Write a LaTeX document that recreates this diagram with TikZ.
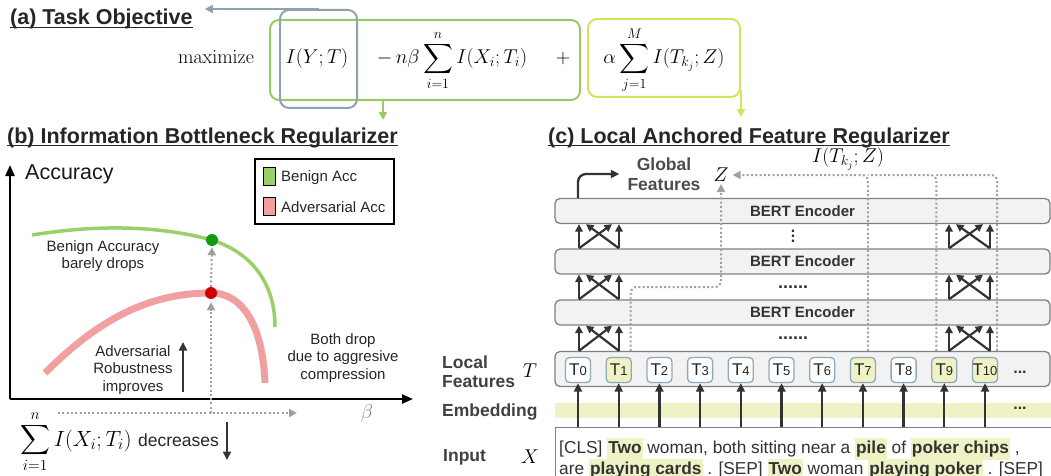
\RequirePackage{fix-cm}
\documentclass[tikz,border=0pt]{standalone}
\usepackage{amsmath}
\usepackage[no-math]{fontspec}
\setmainfont{Liberation Sans}
\usetikzlibrary{arrows.meta,calc}

\definecolor{boxgray}{HTML}{8FA3AE}
\definecolor{objgreen}{HTML}{98CB67}
\definecolor{objyellow}{HTML}{D7E15C}
\definecolor{benignfill}{HTML}{9CCF68}
\definecolor{advfill}{HTML}{F0A0A0}
\definecolor{dotgreen}{HTML}{129A12}
\definecolor{dotred}{HTML}{CC0000}
\definecolor{hlcol}{HTML}{EEF2C4}
\definecolor{encfill}{HTML}{F2F2F2}
\definecolor{encline}{HTML}{808080}
\definecolor{tline}{HTML}{8FAABA}
\definecolor{darkline}{HTML}{333333}
\definecolor{dotgray}{HTML}{A0A0A0}

\newcommand{\fsz}[2]{\fontsize{#1}{#2}\selectfont}
\newcommand{\hlw}[1]{{\setlength{\fboxsep}{1pt}\colorbox{hlcol}{\strut\textbf{#1}}}}

\begin{document}
\begin{tikzpicture}[x=1pt,y=-1pt,
    title/.style={anchor=base west,inner sep=0pt,font=\fsz{21.5}{24}\bfseries,text=black!85},
    uline/.style={line width=1.5pt,black!85},
    eq/.style={anchor=base,inner sep=0pt,font=\fsz{20}{24}},
    objbox/.style={line width=2pt,rounded corners=9pt,inner sep=0pt},
    tip/.style={-{Triangle[length=8pt,width=8pt]}},
    txt/.style={font=\fsz{15}{17.5},align=center,inner sep=0pt,text=black!85},
    darr/.style={draw=darkline,line width=2.3pt,-{Triangle[length=8.5pt,width=8pt]}},
    carr/.style={draw=darkline,line width=2.2pt,-{Triangle[length=7.5pt,width=7.5pt]}},
    dotarr/.style={draw=dotgray,line width=2pt,dash pattern=on 2pt off 2.3pt,-{Triangle[length=8pt,width=8pt]}},
    zdot/.style={draw=dotgray,line width=2pt,dash pattern=on 2pt off 2.3pt,rounded corners=6pt},
    enc/.style={draw=encline,fill=encfill,line width=1.3pt,rounded corners=5pt,minimum width=495pt,
        minimum height=25pt,inner sep=0pt,font=\fsz{15}{18}\bfseries,text=black!80},
    tbox/.style={draw=tline,line width=1.3pt,rounded corners=4pt,minimum size=25pt,inner sep=0pt,
        font=\fsz{17}{17},text=black!85},
    side/.style={anchor=west,inner sep=0pt,align=left,font=\fsz{17.5}{19}\bfseries,text=black!75},
    dot/.style={circle,inner sep=0pt,minimum size=12pt},
    swatch/.style={draw=black,line width=1pt,minimum width=12pt,minimum height=18pt,inner sep=0pt}
]
    \useasboundingbox (0,0) rectangle (1051,476);

    % (a) task objective
    \node[title] (ta) at (10,25) {(a) Task Objective};
    \draw[uline] ([yshift=-2.5pt]ta.base west) -- ([yshift=-2.5pt]ta.base east);
    \node[objbox,draw=objgreen,minimum width=310pt,minimum height=80pt] (gbox) at (425,60) {};
    \node[objbox,draw=objyellow,minimum width=152pt,minimum height=78pt] (ybox) at (664,58) {};
    \node[objbox,draw=boxgray,minimum width=77pt,minimum height=98pt] (ibox) at (318.5,59) {};
    \node[eq] (maxi) at (216,64) {$\mathrm{maximize}$};
    \node[eq] (iyt) at (317,64) {$I(Y;T)$};
    \node[eq] (ixt) at (452,64) {$-\,n\beta\displaystyle\sum_{i=1}^{n}I(X_i;T_i)$};
    \node[eq] (plus) at (563,64) {$+$};
    \node[eq] (itz) at (664,64) {$\alpha\displaystyle\sum_{j=1}^{M}I(T_{k_j};Z)$};
    \draw[draw=boxgray,line width=2pt,tip,shorten >=12pt] (ibox.north) -- (ibox.north -| ta.east);
    \draw[draw=objgreen,line width=2pt,tip] ([xshift=-42pt]gbox.south) -- ++(0,19);
    \draw[draw=objyellow,line width=2pt,tip] ([yshift=8pt]ybox.south east) -- ++(0,27);

    % (b) information bottleneck
    \node[title] (tb) at (7,143) {(b) Information Bottleneck Regularizer};
    \draw[uline] ([yshift=-2.5pt]tb.base west) -- ([yshift=-2.5pt]tb.base east);
    \coordinate (orig) at (10,399);
    \coordinate (ytop) at (10,165);
    \coordinate (xend) at (413,399);
    \draw[line width=2.3pt,-{Triangle[length=11pt,width=9pt]}] (orig) -- (ytop);
    \draw[line width=2.3pt,-{Triangle[length=11pt,width=9pt]}] (orig) -- (xend);
    \node[anchor=west,inner sep=0pt,font=\fsz{21.5}{24},text=black!90] (acc) at (25,174) {Accuracy};

    \node[draw=black,line width=2pt,minimum width=139pt,minimum height=65pt] (legend) at (324.5,191.5) {};
    \node[swatch,fill=benignfill] (swb) at (269.5,176.5) {};
    \node[swatch,fill=advfill] (swa) at (269.5,206) {};
    \node[txt,anchor=west] (lb) at (281,178) {Benign Acc};
    \node[txt,anchor=west] (la) at (281,207) {Adversarial Acc};

    \coordinate (gpk) at (212,240);
    \coordinate (rpk) at (211,293);
    \draw[benignfill,line width=3.5pt] (32,235) .. controls (100,224) and (160,226) .. (gpk)
        .. controls (258,255) and (275,290) .. (275,327);
    \draw[advfill,line width=7pt] (45,373) .. controls (100,318) and (150,293) .. (rpk)
        .. controls (245,293) and (263,330) .. (265,383);
    \node[dot,fill=dotgreen] (gdot) at (gpk) {};
    \node[dot,fill=dotred] (rdot) at (rpk) {};

    \coordinate (dbase) at (211,413);
    \coordinate (hstart) at (58,413);
    \coordinate (hend) at (297,413);
    \draw[dotarr] (hstart) -- (hend);
    \draw[dotarr,shorten >=3pt] (dbase) -- (rdot.south);
    \draw[dotarr,shorten >=1pt] (rdot.north) -- (gdot.south);
    \node[eq,anchor=center,text=black!50] (beta) at (367,413) {$\beta$};

    \node[txt] (bn) at (103,256) {Benign Accuracy\\barely drops};
    \node[txt] (ar) at (133,370) {Adversarial\\Robustness\\improves};
    \coordinate (arlo) at (183,392);
    \coordinate (arhi) at (183,342);
    \draw[darr] (arlo) -- (arhi);
    \node[txt] (bd) at (343,358) {Both drop\\due to aggresive\\compression};

    \node[eq,anchor=base west,font=\fsz{22}{26}] (sumb) at (20,446) {$\displaystyle\sum_{i=1}^{n}I(X_i;T_i)$};
    \node[anchor=base west,inner sep=0pt,font=\fsz{17.5}{20},text=black!85] (decr) at (138,446) {decreases};
    \coordinate (dchi) at (227,422);
    \coordinate (dclo) at (227,460);
    \draw[darr] (dchi) -- (dclo);

    % (c) local anchored features
    \node[title] (tc) at (548,143) {(c) Local Anchored Feature Regularizer};
    \draw[uline] ([yshift=-2.5pt]tc.base west) -- ([yshift=-2.5pt]tc.base east);
    \node[eq,anchor=center] (itkz) at (848,159) {$I(T_{k_j};Z)$};

    \node[enc] (enc1) at (802.5,211) {BERT Encoder};
    \node[enc] (enc2) at (802.5,261.5) {BERT Encoder};
    \node[enc] (enc3) at (802.5,312.5) {BERT Encoder};
    \node[enc,minimum height=35pt] (trow) at (802.5,369) {};
    \node[inner sep=0pt,align=center,font=\fsz{16}{5}\bfseries,text=black!80] (vd) at (793,236) {.\\.\\.};
    \node[inner sep=0pt,font=\fsz{18}{18}\bfseries,text=black!80] (hd1) at (793,287) {......};
    \node[inner sep=0pt,font=\fsz{18}{18}\bfseries,text=black!80] (hd2) at (793,338) {......};

    \foreach \i/\f in {0/white,1/hlcol,2/white,3/white,4/white,5/white,6/white,7/hlcol,8/white,9/hlcol,10/hlcol}
        \node[tbox,fill=\f] (T\i) at ({578+40.7*\i},370) {T{\fsz{13}{13}\i}};
    \node[inner sep=0pt,font=\fsz{16}{16}\bfseries,text=black!80] (tdots) at (1020,372) {...};

    \node[fill=hlcol,minimum width=500pt,minimum height=15pt,inner sep=0pt,anchor=north west] (emb) at (555,403) {};
    \node[inner sep=0pt,font=\fsz{16}{16}\bfseries,text=black!80] (edots) at (1020,408) {...};
    \node[draw=encline,line width=1.3pt,fill=white,minimum width=505pt,minimum height=60pt,
        inner sep=0pt,anchor=north west] (inbox) at (555,427) {};
    \node[anchor=base west,inner sep=0pt,font=\fsz{17.3}{20},text=black!80] (in1) at (559,453)
        {[CLS] \hlw{Two} woman, both sitting near a \hlw{pile} of \hlw{poker chips} ,};
    \node[anchor=base west,inner sep=0pt,font=\fsz{17.3}{20},text=black!80] (in2) at (559,474)
        {are \hlw{playing cards} . [SEP] \hlw{Two} woman \hlw{playing poker} . [SEP]};

    \foreach \i in {0,...,10}
        \draw[darr] (T\i |- inbox.north) -- (T\i.south);

    \foreach \lo/\hi in {trow/enc3,enc3/enc2,enc2/enc1}
        \foreach \xa/\xb in {579/619,949/990} {
            \draw[carr] (\xa,0 |- \lo.north) -- (\xa,0 |- \hi.south);
            \draw[carr] (\xb,0 |- \lo.north) -- (\xb,0 |- \hi.south);
            \draw[carr] (\xa,0 |- \lo.north) -- ([xshift=-7pt]\xb,0 |- \hi.south);
            \draw[carr] (\xb,0 |- \lo.north) -- ([xshift=7pt]\xa,0 |- \hi.south);
        }

    \node[inner sep=0pt,align=center,font=\fsz{17.5}{20}\bfseries,text=black!70] (gfeat) at (664,174) {Global\\Features};
    \node[eq,anchor=center] (Z) at (721,175) {$Z$};
    \draw[darr,rounded corners=8pt] (T0 |- enc1.north) |- ([xshift=-8pt]gfeat.west);

    \coordinate (mid23) at ($(enc2.south)!0.5!(enc3.north)$);
    \draw[zdot,tip,shorten >=2pt] ([xshift=12pt]T1.center |- trow.north) -- ([xshift=12pt]T1.center |- mid23)
        -- (Z |- mid23) -- (Z.south);
    \draw[zdot] ([xshift=12pt]T10.center |- trow.north) |- ([xshift=-8pt]T9.center |- Z.east);
    \draw[zdot] ([xshift=-8pt]T9.center |- trow.north) |- ([xshift=5pt]T7.center |- Z.east);
    \draw[zdot,tip,shorten >=4pt] ([xshift=5pt]T7.center |- trow.north) |- (Z.east);

    \node[side] (lfeat) at (442,371.5) {Local\\Features};
    \node[eq,anchor=center] (Tl) at (530,371) {$T$};
    \node[side] (embl) at (442,412) {Embedding};
    \node[side] (inl) at (443,457) {Input};
    \node[eq,anchor=center] (Xl) at (530,457) {$X$};
\end{tikzpicture}
\end{document}
